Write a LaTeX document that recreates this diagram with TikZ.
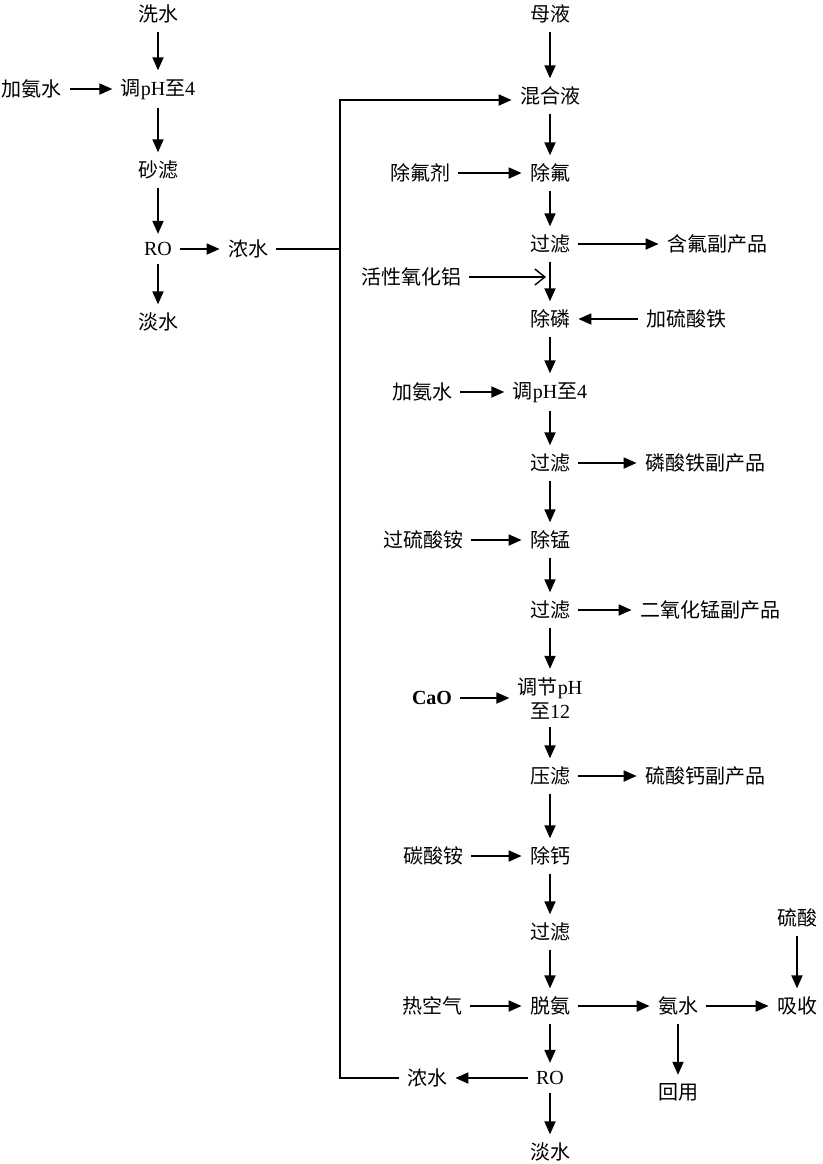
\documentclass[tikz,border=0pt]{standalone}
\usepackage{fontspec}
\setmainfont{Liberation Serif}
\newfontfamily\cjk{Noto Sans CJK SC}
\usetikzlibrary{arrows.meta}
\newcommand{\latn}[1]{{\rmfamily #1}}

\begin{document}
\begin{tikzpicture}[
            x=0.5pt, y=-0.5pt,
            lbl/.style={font=\cjk\fontsize{10}{12}\selectfont, inner sep=4pt, align=center},
            arrow/.style={-{Triangle[length=6.5pt,width=5.5pt]}, line width=0.9pt},
            openarrow/.style={-{Straight Barb[length=5pt,width=8pt]}, line width=0.7pt},
            pipe/.style={line width=0.9pt}
        ]
            \useasboundingbox (0,0) rectangle (823,1164);

            % --- WASH WATER ---
            \node[lbl] (xishui) at (158,14) {洗水};
            \node[lbl] (anA) at (32,89) {加氨水};
            \node[lbl] (tiaoA) at (158,89) {调\latn{pH}至\latn{4}};
            \node[lbl] (shalv) at (158,170) {砂滤};
            \node[lbl] (roA) at (158,249) {\latn{RO}};
            \node[lbl] (nongA) at (248,249) {浓水};
            \node[lbl] (danA) at (158,322) {淡水};

            \draw[arrow] (xishui) -- (tiaoA);
            \draw[arrow] (anA) -- (tiaoA);
            \draw[arrow] (tiaoA) -- (shalv);
            \draw[arrow] (shalv) -- (roA);
            \draw[arrow] (roA) -- (nongA);
            \draw[arrow] (roA) -- (danA);

            % --- MOTHER LIQUOR ---
            \node[lbl] (mu) at (550,14) {母液};
            \node[lbl] (hun) at (550,96) {混合液};
            \node[lbl] (fuji) at (420,173) {除氟剂};
            \node[lbl] (chufu) at (550,173) {除氟};
            \node[lbl] (guoA) at (550,244) {过滤};
            \node[lbl] (hanfu) at (717,244) {含氟副产品};
            \node[lbl] (huoxing) at (411,277) {活性氧化铝};
            \coordinate (jA) at (546,277);
            \node[lbl] (chulin) at (550,319) {除磷};
            \node[lbl] (tiesuan) at (686,319) {加硫酸铁};
            \node[lbl] (anB) at (422,392) {加氨水};
            \node[lbl] (tiaoB) at (550,392) {调\latn{pH}至\latn{4}};
            \node[lbl] (guoB) at (550,463) {过滤};
            \node[lbl] (linsuan) at (705,463) {磷酸铁副产品};
            \node[lbl] (guoliu) at (423,540) {过硫酸铵};
            \node[lbl] (chumeng) at (550,540) {除锰};
            \node[lbl] (guoC) at (550,610) {过滤};
            \node[lbl] (ermeng) at (710,610) {二氧化锰副产品};
            \node[lbl] (cao) at (432,698) {\latn{\textbf{CaO}}};
            \node[lbl] (tiaoC) at (550,698) {调节\latn{pH}\\至\latn{12}};
            \node[lbl] (yalv) at (550,776) {压滤};
            \node[lbl] (liugai) at (705,776) {硫酸钙副产品};
            \node[lbl] (tansuan) at (433,856) {碳酸铵};
            \node[lbl] (chugai) at (550,856) {除钙};
            \node[lbl] (guoD) at (550,932) {过滤};
            \node[lbl] (reqi) at (432,1006) {热空气};
            \node[lbl] (tuoan) at (550,1006) {脱氨};
            \node[lbl] (anshui) at (678,1006) {氨水};
            \node[lbl] (xishou) at (797,1006) {吸收};
            \node[lbl] (liusuan) at (797,918) {硫酸};
            \node[lbl] (huiyong) at (678,1092) {回用};
            \node[lbl] (nongB) at (427,1078) {浓水};
            \node[lbl] (roB) at (550,1078) {\latn{RO}};
            \node[lbl] (danB) at (550,1152) {淡水};

            % main line
            \foreach \a/\b in {mu/hun, hun/chufu, chufu/guoA, guoA/chulin, chulin/tiaoB,
                tiaoB/guoB, guoB/chumeng, chumeng/guoC, guoC/tiaoC, tiaoC/yalv,
                yalv/chugai, chugai/guoD, guoD/tuoan, tuoan/roB, roB/danB}
                \draw[arrow] (\a) -- (\b);

            % reagents and by-products
            \foreach \a/\b in {fuji/chufu, guoA/hanfu, tiesuan/chulin, anB/tiaoB,
                guoB/linsuan, guoliu/chumeng, guoC/ermeng, cao/tiaoC, yalv/liugai,
                tansuan/chugai, reqi/tuoan, tuoan/anshui, anshui/xishou,
                liusuan/xishou, anshui/huiyong, roB/nongB}
                \draw[arrow] (\a) -- (\b);
            \draw[openarrow] (huoxing) -- (jA);

            % --- RECYCLE ---
            \coordinate (loop) at (340,100);
            \draw[pipe] (nongA.east) -- (nongA.east -| loop);
            \draw[arrow] (nongB.west) -| (loop) -- (loop -| hun.west);

        \end{tikzpicture}
\end{document}
